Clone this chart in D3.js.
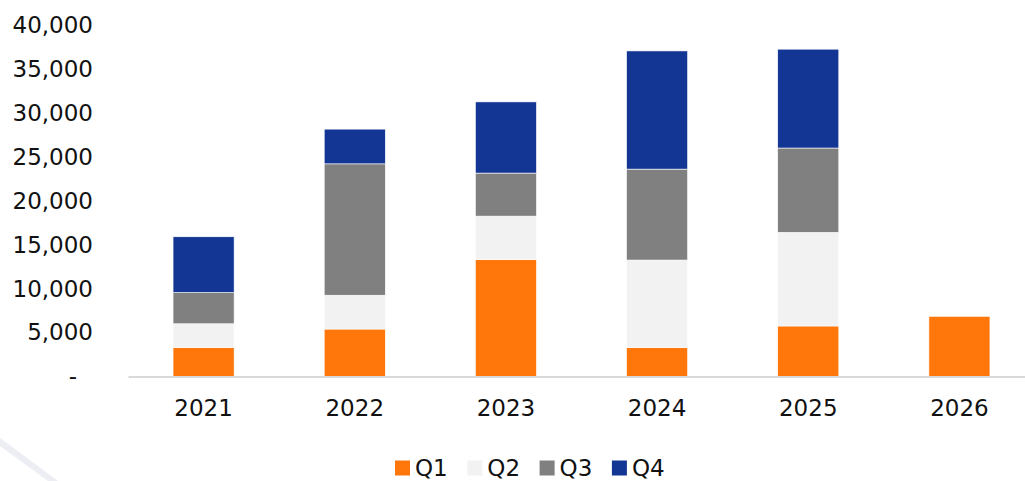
<!DOCTYPE html>
<html>
<head>
<meta charset="utf-8">
<script src="https://cdn.jsdelivr.net/npm/d3@7"></script>
<style>
  html, body { margin: 0; padding: 0; background: #fff; }
  svg text { font-family: "DejaVu Sans", Verdana, sans-serif; fill: #111; }
</style>
</head>
<body>
<div id="chart"></div>
<script>
// values
const years = ["2021", "2022", "2023", "2024", "2025", "2026"];
const q1 = [3300, 5400, 13300, 3300, 5750, 6850];
const q2 = [2700, 3850, 4950, 9950, 10650, 0];
const q3 = [3550, 14950, 4900, 10350, 9600, 0];
const q4 = [6350, 3950, 8100, 13450, 11250, 0];
const quarters = ["Q1", "Q2", "Q3", "Q4"];
const yTicks = [0, 5000, 10000, 15000, 20000, 25000, 30000, 35000, 40000];

const colors = ["#FF760A", "#F2F2F2", "#808080", "#133695"];

const width = 1025, height = 481;

const rows = years.map((y, i) => ({ year: y, Q1: q1[i], Q2: q2[i], Q3: q3[i], Q4: q4[i] }));

const svg = d3.select("#chart").append("svg")
    .attr("width", width)
    .attr("height", height);

// faint watermark stroke in the bottom-left corner
svg.append("path")
    .attr("d", "M0,438 L58,481 L48,481 L0,446 Z")
    .attr("fill", "#eceef4");

const x = d3.scaleBand()
    .domain(years)
    .range([128, 1035])
    .paddingInner(0.596)
    .paddingOuter(0.298);

const y = d3.scaleLinear()
    .domain([0, 40000])
    .range([376.5, 25]);

const series = d3.stack().keys(quarters)(rows);

svg.append("g")
    .selectAll("g")
    .data(series)
    .join("g")
    .attr("fill", (d, i) => colors[i])
    .selectAll("rect")
    .data(d => d.filter(p => p[1] - p[0] > 0))
    .join("rect")
    .attr("x", d => x(d.data.year))
    .attr("y", d => y(d[1]))
    .attr("width", x.bandwidth())
    .attr("height", d => y(d[0]) - y(d[1]))
    .attr("stroke", "#fff")
    .attr("stroke-width", 0.6);

// y axis labels only
const yAxis = svg.append("g")
    .attr("transform", "translate(93,0)")
    .call(d3.axisLeft(y).tickValues(yTicks).tickSize(0).tickPadding(0)
        .tickFormat(d => d === 0 ? "-" : d3.format(",")(d)));
yAxis.select(".domain").remove();
yAxis.selectAll("text")
    .attr("font-size", 23)
    .attr("dx", d => d === 0 ? -16 : 0)
    .style("font-family", "DejaVu Sans, Verdana, sans-serif")
    .attr("fill", "#111");

// x axis
const xAxis = svg.append("g")
    .attr("transform", "translate(0,376.5)")
    .call(d3.axisBottom(x).tickSize(0).tickPadding(23));
xAxis.select(".domain")
    .attr("stroke", "#d9d9d9")
    .attr("stroke-width", 2);
xAxis.selectAll("text")
    .attr("font-size", 23)
    .style("font-family", "DejaVu Sans, Verdana, sans-serif")
    .attr("fill", "#111");

// legend
const legend = svg.append("g")
    .attr("transform", "translate(395,460.5)");
const item = legend.selectAll("g")
    .data(quarters)
    .join("g")
    .attr("transform", (d, i) => `translate(${i * 72.3},0)`);
item.append("rect")
    .attr("width", 15)
    .attr("height", 15)
    .attr("fill", (d, i) => colors[i]);
item.append("text")
    .attr("x", 20)
    .attr("y", 7.5)
    .attr("dy", "0.36em")
    .attr("font-size", 23)
    .text(d => d);
</script>
</body>
</html>
